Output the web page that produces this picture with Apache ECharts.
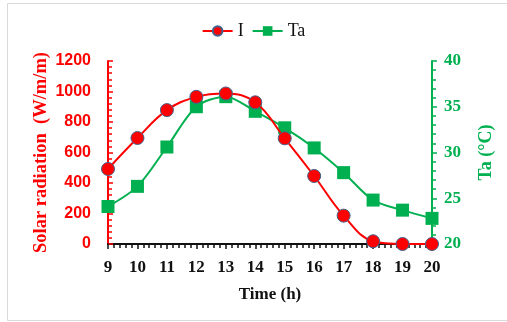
<!DOCTYPE html>
<html>
<head>
<meta charset="utf-8">
<script src="https://cdn.jsdelivr.net/npm/echarts@6/dist/echarts.min.js"></script>
<style>
html, body { margin: 0; padding: 0; background: #fff; }
#chart { width: 507px; height: 322px; }
</style>
</head>
<body>
<div id="chart"></div>
<script>
// hours of the day
var hours = [9, 10, 11, 12, 13, 14, 15, 16, 17, 18, 19, 20];
// solar radiation I (W/m/m)
var radiation = [492, 695, 878, 965, 987, 929, 693, 446, 186, 18, 0, 0];
// air temperature Ta (°C)
var airTemp = [24.1, 26.3, 30.6, 35.0, 36.1, 34.5, 32.7, 30.5, 27.8, 24.8, 23.7, 22.8];

var serif = '"Liberation Serif", "Times New Roman", serif';
var sans = '"Liberation Sans", Arial, sans-serif';

function pairs(vals) {
    return hours.map(function (h, i) { return [h, vals[i]]; });
}

var myChart = echarts.init(document.getElementById('chart'));
var option = {
    backgroundColor: '#fff',
    animation: false,
    graphic: [{
        type: 'rect',
        shape: { x: 7.5, y: 3.5, width: 520, height: 317 },
        style: { fill: 'none', stroke: '#d9d9d9', lineWidth: 1 }
    }],
    legend: {
        top: 17,
        left: 'center',
        itemWidth: 30,
        itemHeight: 12,
        itemGap: 8,
        textStyle: { fontFamily: serif, fontSize: 18, color: '#111' },
        data: ['I', 'Ta']
    },
    grid: { left: 108, right: 75, top: 61, bottom: 78 },
    xAxis: {
        type: 'value',
        min: 9,
        max: 20,
        interval: 1,
        name: 'Time (h)',
        nameLocation: 'middle',
        nameGap: 42,
        nameTextStyle: { fontFamily: serif, fontSize: 17, fontWeight: 'bold', color: '#111' },
        axisLine: { lineStyle: { color: '#111', width: 2 } },
        axisTick: { length: 5, lineStyle: { color: '#111', width: 1.5 } },
        minorTick: { show: true, splitNumber: 5, length: 4, lineStyle: { color: '#111', width: 1.5 } },
        axisLabel: { margin: 15, fontFamily: serif, fontSize: 17, fontWeight: 'bold', color: '#111' },
        splitLine: { show: false }
    },
    yAxis: [{
        type: 'value',
        min: 0,
        max: 1200,
        interval: 200,
        name: 'Solar radiation  (W/m/m)',
        nameLocation: 'middle',
        nameGap: 57,
        nameMoveOverlap: false,
        nameTextStyle: { fontFamily: serif, fontSize: 18.5, fontWeight: 'bold', color: '#ff0000' },
        axisLine: { show: true, lineStyle: { color: '#ff0000', width: 2 } },
        axisTick: { inside: true, length: 5, lineStyle: { color: '#ff0000', width: 1.5 } },
        minorTick: { show: true, splitNumber: 5, length: 4, lineStyle: { color: '#ff0000', width: 1.5 } },
        axisLabel: {
            margin: 17, fontFamily: sans, fontSize: 16, fontWeight: 'bold', color: '#ff0000',
            formatter: function (v) { return String(v); }
        },
        splitLine: { show: false }
    }, {
        type: 'value',
        min: 20,
        max: 40,
        interval: 5,
        position: 'right',
        name: 'Ta (°C)',
        nameLocation: 'middle',
        nameGap: 45,
        nameTextStyle: { fontFamily: serif, fontSize: 18, fontWeight: 'bold', color: '#00b050' },
        axisLine: { show: true, lineStyle: { color: '#00b050', width: 2 } },
        axisTick: { length: 5, lineStyle: { color: '#00b050', width: 1.5 } },
        minorTick: { show: true, splitNumber: 5, length: 4, lineStyle: { color: '#00b050', width: 1.5 } },
        axisLabel: { margin: 12, fontFamily: serif, fontSize: 17, fontWeight: 'bold', color: '#00b050' },
        splitLine: { show: false }
    }],
    series: [{
        name: 'Ta',
        type: 'line',
        yAxisIndex: 1,
        data: pairs(airTemp),
        smooth: 0.3,
        symbol: 'rect',
        symbolSize: 13,
        lineStyle: { color: '#00b050', width: 2 },
        itemStyle: { color: '#00b050' },
        z: 2
    }, {
        name: 'I',
        type: 'line',
        yAxisIndex: 0,
        data: pairs(radiation),
        smooth: 0.4,
        symbol: 'circle',
        symbolSize: 13,
        lineStyle: { color: '#ff0000', width: 2 },
        itemStyle: { color: '#ff0000', borderColor: '#41638c', borderWidth: 1 },
        z: 3
    }]
};
option && myChart.setOption(option);
</script>
</body>
</html>
